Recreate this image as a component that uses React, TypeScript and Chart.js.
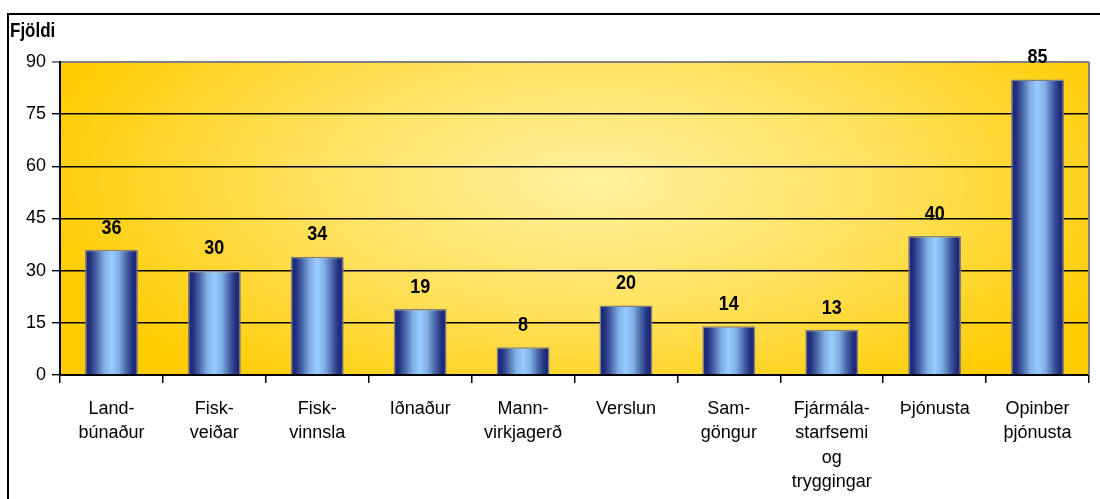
import React, { useEffect, useRef } from "react";
import { Chart, registerables } from "chart.js";

Chart.register(...registerables);

const categories: string[][] = [
  ["Land-", "búnaður"],
  ["Fisk-", "veiðar"],
  ["Fisk-", "vinnsla"],
  ["Iðnaður"],
  ["Mann-", "virkjagerð"],
  ["Verslun"],
  ["Sam-", "göngur"],
  ["Fjármála-", "starfsemi", "og", "tryggingar"],
  ["Þjónusta"],
  ["Opinber", "þjónusta"],
];
const values: number[] = [36, 30, 34, 19, 8, 20, 14, 13, 40, 85];
const yTicks: number[] = [0, 15, 30, 45, 60, 75, 90];
const yTitle = "Fjöldi";

const FONT = "'Liberation Sans', Arial, sans-serif";

export default function App() {
  const ref = useRef<HTMLCanvasElement | null>(null);
  useEffect(() => {
    document.body.style.margin = "0";
    const canvas = ref.current!;
    const bgPlugin = {
      id: "bg",
      beforeDraw(chart: any) {
        const { ctx, chartArea: a } = chart;
        ctx.save();
        ctx.fillStyle = "#ffffff";
        ctx.fillRect(0, 0, chart.width, chart.height);
        ctx.beginPath();
        ctx.rect(a.left, a.top, a.right - a.left, a.bottom - a.top);
        ctx.clip();
        const cx = a.left + (a.right - a.left) * 0.52;
        const cy = a.top + (a.bottom - a.top) * 0.38;
        ctx.translate(cx, cy);
        ctx.scale(1, 0.45);
        const r = (a.right - a.left) * 0.56;
        const g = ctx.createRadialGradient(0, 0, 0, 0, 0, r);
        g.addColorStop(0, "#FFF2A0");
        g.addColorStop(0.5, "#FFE15E");
        g.addColorStop(1, "#FFCC00");
        ctx.fillStyle = g;
        ctx.fillRect(-2000, -2000, 4000, 4000);
        ctx.restore();
      },
      afterDraw(chart: any) {
        const { ctx, chartArea: a } = chart;
        ctx.save();
        ctx.strokeStyle = "#808080";
        ctx.lineWidth = 2;
        ctx.beginPath();
        ctx.moveTo(a.right, a.top);
        ctx.lineTo(a.right, a.bottom);
        ctx.stroke();
        ctx.strokeStyle = "#000000";
        ctx.lineWidth = 2;
        ctx.beginPath();
        ctx.moveTo(8, 600);
        ctx.lineTo(8, 14);
        ctx.lineTo(1200, 14);
        ctx.stroke();
        ctx.fillStyle = "#000";
        ctx.font = `bold 17px ${FONT}`;
        ctx.textBaseline = "middle";
        ctx.textAlign = "left";
        ctx.save();
        ctx.translate(10, 32);
        ctx.scale(1, 1.15);
        ctx.fillText(yTitle, 0, 0);
        ctx.restore();
        const meta = chart.getDatasetMeta(0);
        ctx.font = `bold 18px ${FONT}`;
        ctx.textAlign = "center";
        meta.data.forEach((el: any, i: number) => {
          ctx.save();
          ctx.translate(el.x, el.y - 22);
          ctx.scale(1, 1.15);
          ctx.fillText(String(values[i]), 0, 0);
          ctx.restore();
        });
        ctx.restore();
      },
    };

    const chart = new Chart(canvas, {
      type: "bar",
      data: {
        labels: categories,
        datasets: [
          {
            data: values,
            backgroundColor: (c: any) => {
              const ch = c.chart;
              const xs = ch.scales?.x;
              const a = ch.chartArea;
              if (!xs || !a || c.dataIndex === undefined) return "#6699dd";
              const cx = xs.getPixelForValue(c.dataIndex);
              const w = ((a.right - a.left) / values.length) * 0.515;
              const g = ch.ctx.createLinearGradient(cx - w / 2, 0, cx + w / 2, 0);
              g.addColorStop(0, "#1A237E");
              g.addColorStop(0.1, "#22307F");
              g.addColorStop(0.22, "#4A66A8");
              g.addColorStop(0.36, "#80AEE6");
              g.addColorStop(0.5, "#99CCFF");
              g.addColorStop(0.64, "#80AEE6");
              g.addColorStop(0.78, "#4A66A8");
              g.addColorStop(0.9, "#22307F");
              g.addColorStop(1, "#1A237E");
              return g;
            },
            borderColor: "#808080",
            borderWidth: 1.5,
            barPercentage: 0.515,
            categoryPercentage: 1,
          },
        ],
      },
      options: {
        responsive: false,
        animation: false,
        events: [],
        layout: { padding: { left: 0, top: 62, right: 11, bottom: 0 } },
        plugins: { legend: { display: false }, tooltip: { enabled: false } },
        scales: {
          x: {
            afterFit: (s: any) => {
              s.height = 124;
            },
            grid: {
              display: true,
              drawOnChartArea: false,
              offset: true,
              color: "#000",
              tickLength: 8,
              lineWidth: 1.5,
            },
            border: { color: "#000", width: 2 },
            ticks: {
              color: "#000",
              font: { family: FONT, size: 18, lineHeight: 1.35 },
              padding: 14,
              maxRotation: 0,
              autoSkip: false,
            },
          },
          y: {
            min: 0,
            max: 90,
            afterFit: (s: any) => {
              s.width = 60;
            },
            afterBuildTicks: (s: any) => {
              s.ticks = yTicks.map((v) => ({ value: v }));
            },
            grid: {
              color: (c: any) => (c.tick && c.tick.value === 90 ? "#808080" : "#000"),
              lineWidth: (c: any) => (c.tick && c.tick.value === 90 ? 2 : 1.4),
              tickLength: 8,
            },
            border: { color: "#000", width: 2 },
            ticks: {
              color: "#000",
              font: { family: FONT, size: 18 },
              padding: 6,
            },
          },
        },
      },
      plugins: [bgPlugin],
    } as any);
    return () => chart.destroy();
  }, []);
  return <canvas ref={ref} width={1100} height={499} style={{ display: "block" }} />;
}
